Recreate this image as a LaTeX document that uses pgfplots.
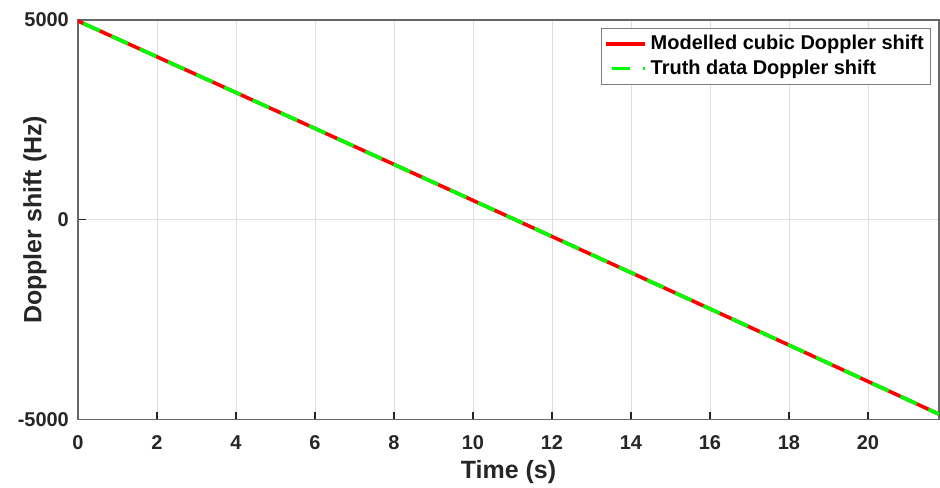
\documentclass[border=0pt]{standalone}
\usepackage{pgfplots}
\pgfplotsset{compat=1.18}
\usepackage{fontspec}
\setmainfont{Liberation Sans}
\definecolor{axgray}{RGB}{38,38,38}
\definecolor{gridgray}{RGB}{223,223,223}
\definecolor{mgreen}{RGB}{0,255,0}
\begin{document}
\begin{tikzpicture}
\begin{axis}[
  name=ax,
  scale only axis,
  width=431pt, height=200pt,
  xmin=0, xmax=21.8,
  ymin=-5000, ymax=5000,
  xtick={0,2,...,20},
  ytick={-5000,0,5000},
  grid=major,
  major grid style={gridgray, line width=0.4pt},
  axis line style={axgray!70, line width=0.6pt},
  tick style={axgray, line width=0.6pt},
  tick align=inside,
  major tick length=4pt,
  xtick pos=bottom, ytick pos=left,
  scaled y ticks=false,
  /pgf/number format/assume math mode=true,
  /pgf/number format/1000 sep={},
  tick label style={font=\fontsize{10}{12}\selectfont\bfseries, text=axgray},
  xticklabel style={yshift=-4.5pt},
  yticklabel style={xshift=-1pt},
  label style={font=\fontsize{12.5}{14}\selectfont\bfseries, text=axgray},
  xlabel={Time (s)},
  ylabel={Doppler shift (Hz)},
  xlabel style={at={(axis description cs:0.5,0)}, anchor=center, yshift=-26.5pt},
  ylabel style={at={(axis description cs:-0.05,0.5)}, anchor=center, rotate=0},
  legend style={at={(0.991,0.98)}, anchor=north east, draw=axgray!60, line width=0.5pt,
    font=\fontsize{10}{12}\selectfont\bfseries, inner sep=1.5pt, row sep=-0.5pt,
    cells={anchor=west}},
  legend image code/.code={\draw[#1] (0cm,0cm) -- (0.68cm,0cm);},
]
\addplot[red, line width=1.8pt] coordinates {
(0,4975) (1,4528) (2,4080) (3,3632) (4,3184) (5,2735) (6,2286) (7,1836)
(8,1386) (9,936) (10,485) (11,34) (12,-418) (13,-870) (14,-1322) (15,-1775)
(16,-2228) (17,-2682) (18,-3136) (19,-3590) (20,-4045) (21,-4500) (21.8,-4865)
};
\addlegendentry{Modelled cubic Doppler shift}
\addplot[mgreen, line width=1.8pt, dash pattern=on 9pt off 6.5pt, dash phase=-3pt] coordinates {
(0,4975) (1,4528) (2,4080) (3,3632) (4,3184) (5,2735) (6,2286) (7,1836)
(8,1386) (9,936) (10,485) (11,34) (12,-418) (13,-870) (14,-1322) (15,-1775)
(16,-2228) (17,-2682) (18,-3136) (19,-3590) (20,-4045) (21,-4500) (21.8,-4865)
};
\addlegendentry{Truth data Doppler shift}
\end{axis}
\pgfresetboundingbox
\path ([shift={(-39pt,-34pt)}]ax.south west) rectangle ([shift={(0.5pt,10pt)}]ax.north east);
\end{tikzpicture}
\end{document}
